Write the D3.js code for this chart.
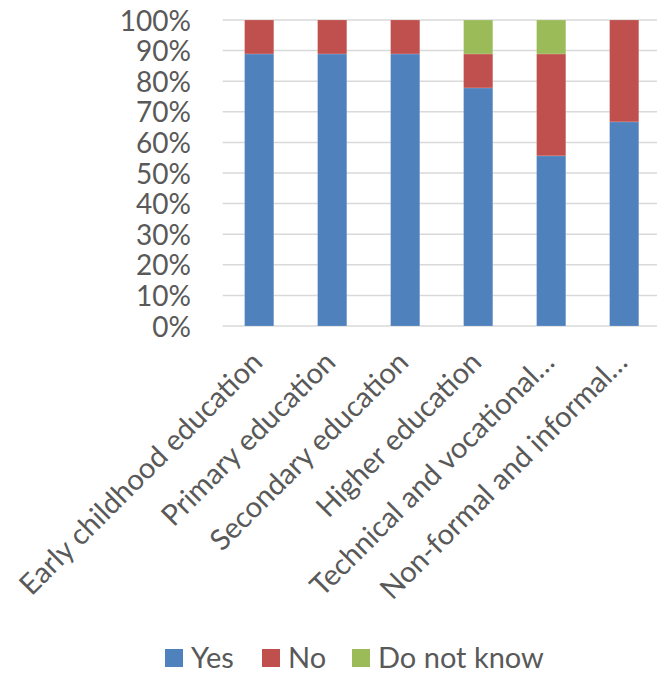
<!DOCTYPE html>
<html><head><meta charset="utf-8">
<script src="https://cdn.jsdelivr.net/npm/d3@7"></script>
<style>body{margin:0;background:#fff}svg{display:block}</style>
</head><body>
<script>
const categories = ["Early childhood education","Primary education","Secondary education","Higher education","Technical and vocational…","Non-formal and informal…"];
const yes = [88.9, 88.9, 88.9, 77.8, 55.6, 66.7];
const no = [11.1, 11.1, 11.1, 11.1, 33.3, 33.3];
const dnk = [0, 0, 0, 11.1, 11.1, 0];
const seriesNames = ["Yes","No","Do not know"];
const colors = ["#4F81BD","#C0504D","#9BBB59"];
const yTicks = [0,10,20,30,40,50,60,70,80,90,100];

const W = 657, H = 673;
const svg = d3.select("body").append("svg").attr("width", W).attr("height", H);
const font = "Lato, 'Open Sans', sans-serif";
const FS = 29;
const x = d3.scaleBand().domain(categories).range([222.7, 660.7]).paddingInner(0.6).paddingOuter(0.3);
const y = d3.scaleLinear().domain([0,100]).range([326, 20]);

// gridlines
svg.append("g").selectAll("line").data(yTicks).join("line")
  .attr("x1", 222.7).attr("x2", 660.7)
  .attr("y1", d => y(d)).attr("y2", d => y(d))
  .attr("stroke", "#d9d9d9").attr("stroke-width", 1.5);

const rows = categories.map((c,i) => ({cat:c, Yes:yes[i], No:no[i], "Do not know":dnk[i]}));
const stack = d3.stack().keys(seriesNames)(rows);
svg.append("g").selectAll("g").data(stack).join("g")
  .attr("fill", (d,i) => colors[i])
  .selectAll("rect").data(d => d).join("rect")
  .attr("x", d => x(d.data.cat))
  .attr("width", x.bandwidth())
  .attr("y", d => y(d[1]))
  .attr("height", d => y(d[0]) - y(d[1]))
  .attr("stroke", "#fff").attr("stroke-opacity", 0.3).attr("stroke-width", 0.5);

// y axis labels
const yAxis = d3.axisLeft(y).tickValues(yTicks).tickFormat(d => d + "%").tickSize(0).tickPadding(0);
const ya = svg.append("g").attr("transform", "translate(191,0)").call(yAxis);
ya.select(".domain").remove();
ya.selectAll("text").attr("font-family", font).attr("font-size", 28).attr("fill", "#595959").attr("dy", "0.36em");

// x axis labels
const xAxis = d3.axisBottom(x).tickSize(0).tickPadding(0);
const xa = svg.append("g").attr("transform", "translate(0,372)").call(xAxis);
xa.select(".domain").remove();
xa.selectAll("text").attr("font-family", font).attr("font-size", FS).attr("fill", "#595959")
  .attr("text-anchor", "end").attr("dy", 0)
  .attr("transform", "translate(5,-8) rotate(-45)").attr("x", 0).attr("y", 0);

// legend
const legX = [165, 262, 352];
const lg = svg.append("g").selectAll("g").data(seriesNames).join("g")
  .attr("transform", (d,i) => `translate(${legX[i]},649)`);
lg.append("rect").attr("width", 18).attr("height", 18).attr("fill", (d,i) => colors[i]);
lg.append("text").attr("x", 26).attr("y", 9).attr("dy", "0.36em")
  .attr("font-family", font).attr("font-size", FS).attr("fill", "#595959").text(d => d);
</script>
</body></html>
